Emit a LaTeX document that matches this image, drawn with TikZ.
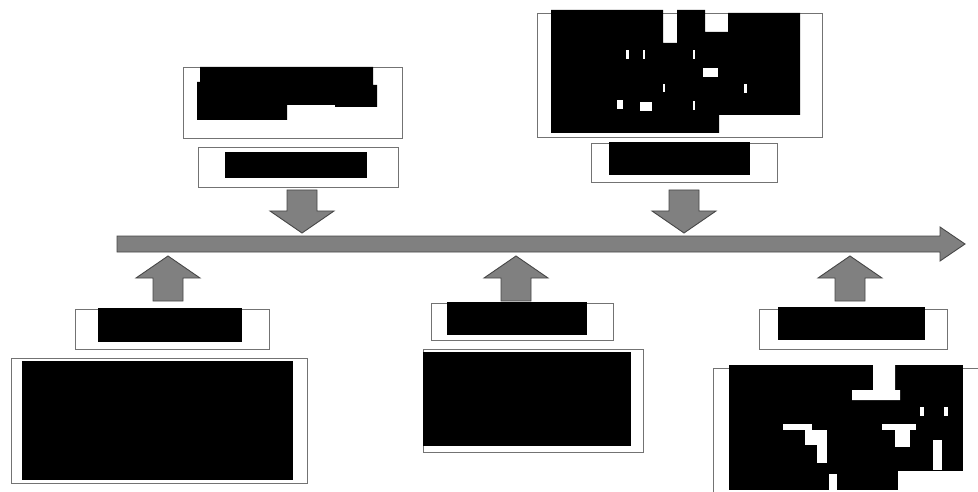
\documentclass[tikz,border=0pt]{standalone}
\usepackage{amsmath, amsfonts, amssymb}
\usepackage{xcolor}
\usepackage{tikz}

\begin{document}
\begin{tikzpicture}[x=1pt, y=-1pt,
  frame/.style={draw=black!55, line width=0.9pt},
  blockarrow/.style={fill=black!50, draw=black!72, line width=0.9pt, line join=miter}]

\useasboundingbox[fill=white] (0,0) rectangle (978,492);

% time line
\draw[blockarrow] (117,236)--(940,236)--(940,227)--(965,244)--(940,261)--(940,252)--(117,252)--cycle;

\foreach \x in {168,516,850}{
	\draw[blockarrow] (\x-15,301)--(\x-15,278)--(\x-32,278)--(\x,256)--(\x+32,278)--(\x+15,278)--(\x+15,301)--cycle;
 }

\foreach \x in {302,684}{
	\draw[blockarrow] (\x-15,190)--(\x-15,211)--(\x-32,211)--(\x,233)--(\x+32,211)--(\x+15,211)--(\x+15,190)--cycle;
 }

% upper boxes
\draw[frame] (183,67) rectangle (402,138);
\fill[black] (200,67)--(373,67)--(373,85)--(377,85)--(377,107)--(335,107)--(335,105)--(287,105)--(287,120)--(197,120)--(197,82)--(200,82)--cycle;
\draw[frame] (198,147) rectangle (398,187);
\fill[black] (225,152) rectangle (367,178);

\draw[frame] (537,13) rectangle (822,137);
\fill[black] (551,10)--(663,10)--(663,43)--(677,43)--(677,10)--(705,10)--(705,32)--(728,32)--(728,13)--(800,13)--(800,115)--(719,115)--(719,133)--(551,133)--cycle;
\foreach \a/\b/\w/\h in {703/68/15/9, 617/100/6/9, 640/102/12/9, 626/50/3/9, 643/50/2/9, 693/50/2/9, 663/84/2/8, 744/84/3/9, 693/101/2/9}{
	\fill[white] (\a,\b) rectangle ++(\w,\h);
 }
\draw[frame] (591,143) rectangle (777,182);
\fill[black] (609,142) rectangle (750,175);

% lower boxes
\draw[frame] (75,309) rectangle (269,349);
\fill[black] (98,308) rectangle (242,342);
\draw[frame] (11,358) rectangle (307,483);
\fill[black] (22,361) rectangle (293,480);

\draw[frame] (431,303) rectangle (613,340);
\fill[black] (447,302) rectangle (587,335);
\draw[frame] (423,349) rectangle (643,452);
\fill[black] (423,352) rectangle (631,446);

\draw[frame] (759,309) rectangle (947,349);
\fill[black] (778,307) rectangle (925,340);
\draw[frame] (713,492)--(713,368)--(978,368);
\fill[black] (729,365) rectangle (963,490);
\fill[white] (873,363)--(895,363)--(895,390)--(900,390)--(900,400)--(852,400)--(852,390)--(873,390)--cycle;
\foreach \a/\b/\w/\h in {920/407/4/9, 944/407/4/9, 783/424/29/6, 805/430/22/15, 817/445/10/18, 882/424/34/6, 895/430/15/17, 933/440/9/30, 829/474/8/18, 898/471/66/21}{
	\fill[white] (\a,\b) rectangle ++(\w,\h);
 }

\end{tikzpicture}
\end{document}
